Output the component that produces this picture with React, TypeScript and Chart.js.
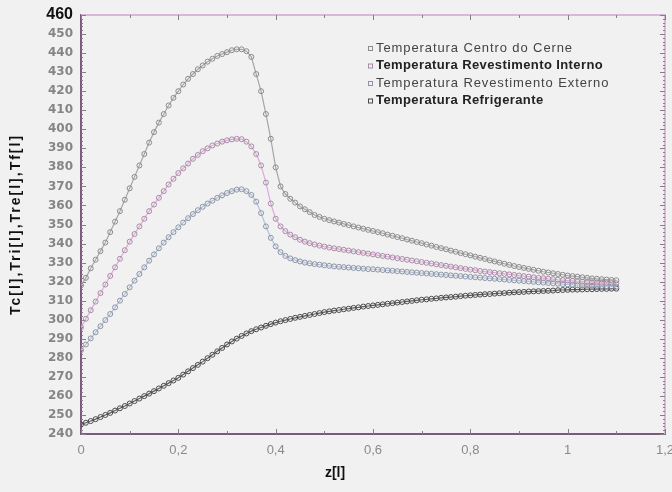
import { useEffect, useRef } from "react";
import { Chart, registerables } from "chart.js";

Chart.register(...registerables);

// Axial position z (step 0.01 from 0 to 1.10)
const zValues = [
  0, 0.01, 0.02, 0.03, 0.04, 0.05, 0.06, 0.07, 0.08, 0.09,
  0.1, 0.11, 0.12, 0.13, 0.14, 0.15, 0.16, 0.17, 0.18, 0.19,
  0.2, 0.21, 0.22, 0.23, 0.24, 0.25, 0.26, 0.27, 0.28, 0.29,
  0.3, 0.31, 0.32, 0.33, 0.34, 0.35, 0.36, 0.37, 0.38, 0.39,
  0.4, 0.41, 0.42, 0.43, 0.44, 0.45, 0.46, 0.47, 0.48, 0.49,
  0.5, 0.51, 0.52, 0.53, 0.54, 0.55, 0.56, 0.57, 0.58, 0.59,
  0.6, 0.61, 0.62, 0.63, 0.64, 0.65, 0.66, 0.67, 0.68, 0.69,
  0.7, 0.71, 0.72, 0.73, 0.74, 0.75, 0.76, 0.77, 0.78, 0.79,
  0.8, 0.81, 0.82, 0.83, 0.84, 0.85, 0.86, 0.87, 0.88, 0.89,
  0.9, 0.91, 0.92, 0.93, 0.94, 0.95, 0.96, 0.97, 0.98, 0.99,
  1, 1.01, 1.02, 1.03, 1.04, 1.05, 1.06, 1.07, 1.08, 1.09, 1.1,
];

// Tc – centro do cerne
const tCentro = [
  318, 322, 327, 331.5, 336, 340.5, 346, 351.5, 357, 363,
  369, 375, 381, 387, 393, 398.5, 403.5, 408, 412.5, 416.5,
  420, 423.5, 426.5, 429, 431.5, 433.5, 435.5, 437, 438.5, 439.5,
  440.5, 441.5, 442, 442, 441, 438, 429, 420, 408, 395,
  380, 370, 366, 363.5, 361.5, 359.5, 358, 356.5, 355, 354,
  353, 352.3, 351.6, 351, 350.3, 349.7, 349, 348.4, 347.8, 347.2,
  346.6, 346, 345.4, 344.7, 344.1, 343.4, 342.8, 342.1, 341.5, 340.8,
  340.2, 339.5, 338.9, 338.2, 337.6, 337, 336.3, 335.7, 335, 334.4,
  333.8, 333.1, 332.5, 331.9, 331.2, 330.6, 330, 329.4, 328.8, 328.2,
  327.7, 327.2, 326.7, 326.2, 325.7, 325.2, 324.8, 324.4, 324, 323.6,
  323.2, 322.9, 322.6, 322.3, 322, 321.7, 321.5, 321.3, 321.1, 320.9, 320.7,
];

// Tri – revestimento interno
const tRevInterno = [
  296, 300.5, 305, 309.5, 314, 318.5, 323, 327.5, 332, 336.5,
  341, 345, 349, 353, 357, 360.5, 364, 367.5, 371, 374,
  377, 379.5, 382, 384.5, 386.5, 388.5, 390, 391.5, 392.5, 393.5,
  394.2, 394.7, 395, 394.8, 393.5, 391, 387, 381, 372, 361,
  353, 349, 346.5, 344.7, 343.3, 342, 341, 340.2, 339.5, 338.9,
  338.4, 337.9, 337.5, 337.1, 336.7, 336.3, 335.9, 335.5, 335.1, 334.7,
  334.3, 333.9, 333.5, 333.1, 332.7, 332.3, 331.9, 331.5, 331.1, 330.7,
  330.3, 329.9, 329.5, 329.1, 328.7, 328.3, 327.9, 327.5, 327.1, 326.7,
  326.3, 326, 325.6, 325.3, 325, 324.7, 324.4, 324.1, 323.8, 323.5,
  323.2, 322.9, 322.6, 322.3, 322, 321.8, 321.5, 321.3, 321, 320.8,
  320.6, 320.4, 320.2, 320, 319.8, 319.7, 319.5, 319.4, 319.3, 319.2, 319.1,
];

// Tre – revestimento externo
const tRevExterno = [
  284, 287, 290.2, 293.4, 296.6, 299.8, 303, 306.5, 310, 313.5,
  317, 320.5, 324, 327.5, 331, 334.3, 337.5, 340.5, 343.3, 346,
  348.5, 351, 353.3, 355.5, 357.5, 359.3, 361, 362.5, 364, 365.3,
  366.5, 367.5, 368.3, 368.5, 367.5, 365.5, 362, 356, 349, 343,
  338.5, 335.5, 333.5, 332.2, 331.3, 330.6, 330, 329.6, 329.2, 328.9,
  328.6, 328.3, 328, 327.8, 327.6, 327.4, 327.2, 327, 326.8, 326.6,
  326.5, 326.3, 326.1, 325.9, 325.7, 325.5, 325.3, 325.1, 324.9, 324.7,
  324.5, 324.3, 324.1, 323.9, 323.7, 323.5, 323.3, 323.1, 322.9, 322.7,
  322.5, 322.3, 322.1, 321.9, 321.7, 321.5, 321.3, 321.1, 320.9, 320.7,
  320.5, 320.3, 320.1, 319.9, 319.7, 319.5, 319.3, 319.1, 318.9, 318.7,
  318.5, 318.3, 318.1, 318, 317.9, 317.8, 317.7, 317.6, 317.5, 317.4, 317.3,
];

// Tf – refrigerante
const tRefrigerante = [
  245, 245.9, 246.8, 247.8, 248.9, 250, 251.1, 252.3, 253.5, 254.7,
  256, 257.3, 258.6, 259.9, 261.2, 262.5, 263.9, 265.3, 266.7, 268.1,
  269.5, 271.2, 272.9, 274.6, 276.3, 278, 279.8, 281.6, 283.4, 285.2,
  287, 288.6, 290.1, 291.5, 292.8, 294, 295, 295.9, 296.8, 297.7,
  298.5, 299.2, 299.8, 300.4, 301, 301.5, 302, 302.5, 303, 303.5,
  304, 304.4, 304.8, 305.1, 305.5, 305.8, 306.2, 306.5, 306.9, 307.2,
  307.5, 307.8, 308.1, 308.4, 308.7, 309, 309.3, 309.6, 309.9, 310.2,
  310.5, 310.7, 311, 311.2, 311.5, 311.7, 311.9, 312.1, 312.4, 312.6,
  312.8, 313, 313.2, 313.4, 313.5, 313.7, 313.9, 314, 314.2, 314.4,
  314.5, 314.6, 314.8, 314.9, 315, 315.1, 315.2, 315.3, 315.5, 315.6,
  315.7, 315.8, 315.8, 315.9, 316, 316, 316.1, 316.2, 316.2, 316.3, 316.3,
];

const seriesLabels = [
  "Temperatura Centro do Cerne",
  "Temperatura Revestimento Interno",
  "Temperatura Revestimento Externo",
  "Temperatura Refrigerante",
];

const yTitle = "Tc[l],Tri[l],Tre[l],Tf[l]";
const xTitle = "z[l]";

const lineColors = ["#a6a6a6", "#dcaad6", "#b4c2d8", "#5e5e5e"];
const markerColors = ["#8a8a8a", "#a88aa6", "#8b93a6", "#4a4a4a"];
const legendBold = [false, true, false, true];

const formatZ = (v: number) => {
  if (v === 0) return "0";
  if (Math.abs(v - 1) < 1e-9) return "1";
  return v.toFixed(1).replace(".", ",");
};

// Frame, inward tick marks, inline legend and axis titles
const decorations = {
  id: "decorations",
  beforeDatasetsDraw(chart: any) {
    const { ctx, chartArea: a, scales } = chart;
    const ys = scales.y;
    const xs = scales.x;
    ctx.save();
    // light frame on top and right
    ctx.strokeStyle = "#d8b8d8";
    ctx.lineWidth = 2;
    ctx.beginPath();
    ctx.moveTo(a.left, a.top);
    ctx.lineTo(a.right, a.top);
    ctx.lineTo(a.right, a.bottom);
    ctx.stroke();
    // inward ticks on left / right
    ctx.strokeStyle = "#8a7a8a";
    ctx.lineWidth = 1;
    for (let v = 240; v <= 460; v += 2) {
      const y = Math.round(ys.getPixelForValue(v)) + 0.5;
      const len = v % 10 === 0 ? 5 : 2;
      ctx.beginPath();
      ctx.moveTo(a.left, y);
      ctx.lineTo(a.left + len, y);
      ctx.moveTo(a.right, y);
      ctx.lineTo(a.right - len, y);
      ctx.stroke();
    }
    for (let i = 0; i <= 12; i++) {
      const x = Math.round(xs.getPixelForValue(i / 10)) + 0.5;
      const len = i % 2 === 0 ? 5 : 3;
      ctx.beginPath();
      ctx.moveTo(x, a.bottom);
      ctx.lineTo(x, a.bottom - len);
      ctx.moveTo(x, a.top);
      ctx.lineTo(x, a.top + len);
      ctx.stroke();
    }
    ctx.restore();
  },
  afterDraw(chart: any) {
    const { ctx, chartArea: a } = chart;
    ctx.save();
    // legend
    const lx = 368;
    const ly0 = 48;
    const dy = 17.5;
    chart.data.datasets.forEach((ds: any, i: number) => {
      const y = ly0 + i * dy;
      ctx.strokeStyle = markerColors[i];
      ctx.lineWidth = 1;
      ctx.strokeRect(lx + 0.5, y - 1.5, 4, 4);
      ctx.fillStyle = legendBold[i] ? "#222" : "#444";
      ctx.font = `${legendBold[i] ? "bold " : ""}13px "Liberation Sans", Arial, sans-serif`;
      (ctx as any).letterSpacing = legendBold[i] ? "0.4px" : "0.9px";
      ctx.textAlign = "left";
      ctx.textBaseline = "middle";
      ctx.fillText(ds.label, lx + 8, y);
    });
    (ctx as any).letterSpacing = "0px";
    // axis titles
    ctx.fillStyle = "#111";
    ctx.font = 'bold 14px "Liberation Sans", Arial, sans-serif';
    ctx.textAlign = "center";
    ctx.textBaseline = "middle";
    ctx.fillText(xTitle, 335, 473);
    ctx.translate(16, (a.top + a.bottom) / 2);
    ctx.rotate(-Math.PI / 2);
    (ctx as any).letterSpacing = "2px";
    ctx.fillText(yTitle, 0, 0);
    ctx.restore();
  },
};

export default function App() {
  const canvasRef = useRef<HTMLCanvasElement>(null);

  useEffect(() => {
    document.body.style.margin = "0";
    const canvas = canvasRef.current;
    if (!canvas) return;
    const series = [tCentro, tRevInterno, tRevExterno, tRefrigerante];
    const chart = new Chart(canvas, {
      type: "line",
      data: {
        datasets: series.map((vals, i) => ({
          label: seriesLabels[i],
          data: zValues.map((z, k) => ({ x: z, y: vals[k] })),
          borderColor: lineColors[i],
          borderWidth: 1.2,
          pointStyle: "circle",
          pointRadius: 2.5,
          pointBorderWidth: 1,
          pointBorderColor: markerColors[i],
          pointBackgroundColor: "rgba(0,0,0,0)",
          tension: 0,
        })),
      },
      options: {
        responsive: false,
        animation: false,
        devicePixelRatio: 1,
        layout: { padding: { left: 0, top: 15, right: 7, bottom: 0 } },
        plugins: {
          legend: { display: false },
          tooltip: { enabled: false },
        },
        scales: {
          x: {
            type: "linear",
            min: 0,
            max: 1.2,
            grid: { display: false, drawTicks: false },
            border: { display: true, color: "#7a5a7a", width: 2 },
            ticks: {
              stepSize: 0.2,
              padding: 9,
              color: "#8a8a8a",
              font: { family: '"Liberation Sans", Arial, sans-serif', size: 13 },
              callback: (v: any) => formatZ(Number(v)),
              autoSkip: false,
              maxRotation: 0,
            },
            afterFit: (s: any) => {
              s.height = 58;
              s.paddingLeft = 0;
              s.paddingRight = 0;
            },
          },
          y: {
            min: 240,
            max: 460,
            grid: { display: false, drawTicks: false },
            border: { display: true, color: "#7a5a7a", width: 2 },
            ticks: {
              stepSize: 10,
              padding: 8,
              autoSkip: false,
              color: (c: any) => (c.tick && c.tick.value === 460 ? "#111" : "#858585"),
              font: (c: any) =>
                c.tick && c.tick.value === 460
                  ? { family: '"Liberation Sans", Arial, sans-serif', size: 16, weight: "bold" }
                  : { family: '"DejaVu Sans", sans-serif', size: 12, weight: "bold" },
            },
            afterFit: (s: any) => {
              s.width = 81;
              s.paddingTop = 0;
              s.paddingBottom = 0;
            },
          },
        },
      },
      plugins: [decorations],
    });
    return () => chart.destroy();
  }, []);

  return (
    <div style={{ width: 672, height: 492, background: "#f1f1f1" }}>
      <canvas ref={canvasRef} width={672} height={492} style={{ display: "block" }} />
    </div>
  );
}
